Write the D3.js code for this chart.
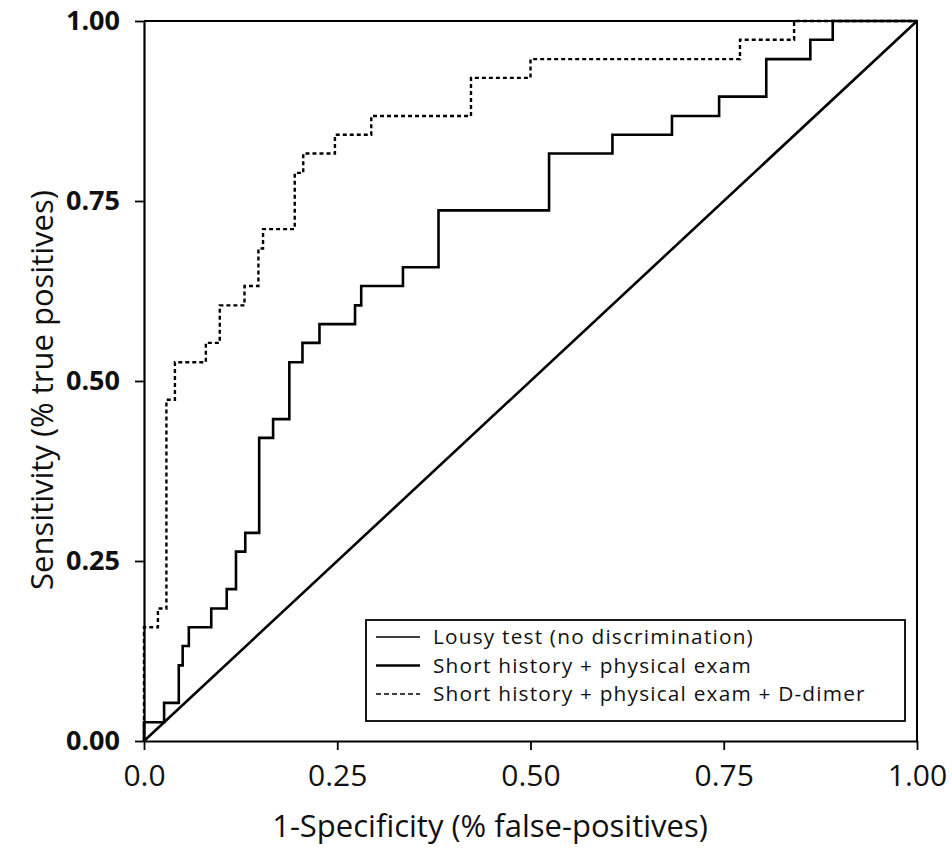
<!DOCTYPE html>
<html>
<head>
<meta charset="utf-8">
<script src="https://cdn.jsdelivr.net/npm/d3@7"></script>
<style>
  body { margin: 0; background: #fff; }
  svg { display: block; font-family: 'Open Sans', sans-serif; }
</style>
</head>
<body>
<svg width="952" height="854"></svg>
<script>
// ROC curves, 1-specificity (fpr) vs sensitivity (tpr)
var lousyFpr = [0, 1]
var lousyTpr = [0, 1]

var historyFpr = [0, 0, 0.026, 0.045, 0.050, 0.058, 0.087, 0.107, 0.119, 0.131, 0.149, 0.167,
  0.188, 0.205, 0.227, 0.273, 0.281, 0.335, 0.381, 0.524, 0.606, 0.683, 0.744, 0.805,
  0.862, 0.891, 1.0]
var historyTpr = [0, 0.026, 0.053, 0.105, 0.132, 0.158, 0.184, 0.211, 0.263, 0.289, 0.421, 0.447,
  0.526, 0.553, 0.579, 0.605, 0.632, 0.658, 0.737, 0.816, 0.842, 0.868, 0.895, 0.947,
  0.974, 1.0, 1.0]

var dimerFpr = [0, 0, 0.018, 0.029, 0.040, 0.080, 0.098, 0.130, 0.148, 0.154, 0.195, 0.206,
  0.247, 0.294, 0.423, 0.500, 0.771, 0.841, 1.0]
var dimerTpr = [0, 0.158, 0.184, 0.474, 0.526, 0.553, 0.605, 0.632, 0.684, 0.711, 0.789, 0.816,
  0.842, 0.868, 0.921, 0.947, 0.974, 1.0, 1.0]

var xTicks = [0, 0.25, 0.5, 0.75, 1]
var xTickLabels = ['0.0', '0.25', '0.50', '0.75', '1.00']
var yTicks = [0, 0.25, 0.5, 0.75, 1]
var yTickLabels = ['0.00', '0.25', '0.50', '0.75', '1.00']

var legendNames = [
  'Lousy test (no discrimination)',
  'Short history + physical exam',
  'Short history + physical exam + D-dimer'
]

var svg = d3.select('svg')
var plotL = 144, plotR = 917, plotT = 21, plotB = 741

var x = d3.scaleLinear().domain([0, 1]).range([plotL, plotR])
var y = d3.scaleLinear().domain([0, 1]).range([plotB, plotT])

function pts(xs, ys) {
  return xs.map((v, i) => [v, ys[i]])
}

var stepLine = d3.line()
  .x(d => x(d[0]))
  .y(d => y(d[1]))
  .curve(d3.curveStepAfter)

var straight = d3.line()
  .x(d => x(d[0]))
  .y(d => y(d[1]))

// frame (top / right)
svg.append('path')
  .attr('d', 'M' + plotL + ',' + plotT + 'H' + plotR + 'V' + plotB)
  .attr('fill', 'none')
  .attr('stroke', '#000')
  .attr('stroke-width', 2)

// axes
var xAxis = d3.axisBottom(x)
  .tickValues(xTicks)
  .tickFormat((d, i) => xTickLabels[i])
  .tickSize(9)
  .tickPadding(15)
  .tickSizeOuter(0)

var yAxis = d3.axisLeft(y)
  .tickValues(yTicks)
  .tickFormat((d, i) => yTickLabels[i])
  .tickSize(9)
  .tickPadding(15)
  .tickSizeOuter(0)

var gx = svg.append('g')
  .attr('transform', 'translate(0,' + plotB + ')')
  .call(xAxis)
gx.select('.domain').attr('stroke-width', 2.2)
gx.selectAll('.tick line').attr('stroke-width', 1.8)
gx.selectAll('.tick text')
  .attr('font-size', 30)
  .attr('font-family', 'Open Sans, sans-serif')
  .attr('fill', '#111')

var gy = svg.append('g')
  .attr('transform', 'translate(' + plotL + ',0)')
  .call(yAxis)
gy.select('.domain').attr('stroke-width', 2.2)
gy.selectAll('.tick line').attr('stroke-width', 1.8)
gy.selectAll('.tick text')
  .attr('font-size', 27)
  .attr('font-weight', 'bold')
  .attr('font-family', 'Open Sans, sans-serif')
  .attr('fill', '#111')

// curves
svg.append('path')
  .datum(pts(lousyFpr, lousyTpr))
  .attr('d', straight)
  .attr('fill', 'none')
  .attr('stroke', '#000')
  .attr('stroke-width', 2.6)

svg.append('path')
  .datum(pts(historyFpr, historyTpr))
  .attr('d', stepLine)
  .attr('fill', 'none')
  .attr('stroke', '#000')
  .attr('stroke-width', 2.6)

svg.append('path')
  .datum(pts(dimerFpr, dimerTpr))
  .attr('d', stepLine)
  .attr('fill', 'none')
  .attr('stroke', '#000')
  .attr('stroke-width', 2.4)
  .attr('stroke-dasharray', '4,3')

// axis titles
svg.append('text')
  .attr('x', 490)
  .attr('y', 837)
  .attr('text-anchor', 'middle')
  .attr('font-size', 31)
  .attr('fill', '#111')
  .text('1-Specificity (% false-positives)')

svg.append('text')
  .attr('transform', 'translate(42,390) rotate(-90)')
  .attr('text-anchor', 'middle')
  .attr('dy', '0.35em')
  .attr('font-size', 31)
  .attr('fill', '#111')
  .text('Sensitivity (% true positives)')

// legend
var lg = svg.append('g').attr('transform', 'translate(366,620)')
lg.append('rect')
  .attr('width', 539)
  .attr('height', 101)
  .attr('fill', '#fff')
  .attr('stroke', '#000')
  .attr('stroke-width', 1.8)

var legendStyles = [
  { w: 1.6, dash: null },
  { w: 2.6, dash: null },
  { w: 1.6, dash: '5,3' }
]

legendNames.forEach((name, i) => {
  var cy = 17 + i * 28.5
  lg.append('line')
    .attr('x1', 10).attr('x2', 54)
    .attr('y1', cy).attr('y2', cy)
    .attr('stroke', '#000')
    .attr('stroke-width', legendStyles[i].w)
    .attr('stroke-dasharray', legendStyles[i].dash)
  lg.append('text')
    .attr('x', 67)
    .attr('y', cy)
    .attr('dy', '0.35em')
    .attr('font-size', 20.8)
    .attr('letter-spacing', 1.2)
    .attr('fill', '#111')
    .text(name)
})
</script>
</body>
</html>
